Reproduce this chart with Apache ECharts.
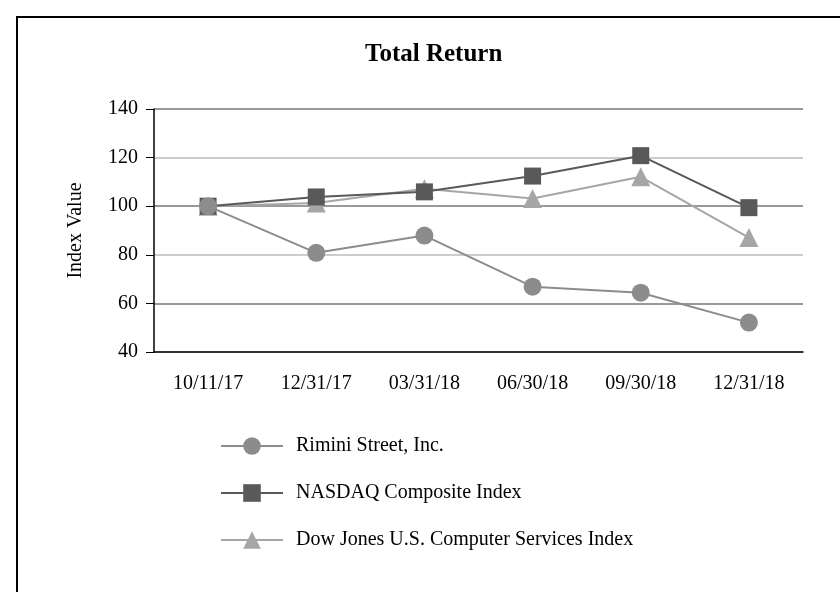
<!DOCTYPE html>
<html>
<head>
<meta charset="utf-8">
<title>Total Return</title>
<script src="https://cdn.jsdelivr.net/npm/echarts@6/dist/echarts.min.js"></script>
<style>
  html, body { margin: 0; padding: 0; background: #fff; }
  #chart { width: 840px; height: 592px; }
</style>
</head>
<body>
<div id="chart"></div>
<script>
// 数据
var categories = ['10/11/17', '12/31/17', '03/31/18', '06/30/18', '09/30/18', '12/31/18'];
var riminiValues = [100, 80.8, 87.9, 66.9, 64.4, 52.1];
var nasdaqValues = [100, 103.8, 105.9, 112.4, 120.8, 99.4];
var dowValues = [100, 101.3, 107.2, 103.2, 112.1, 87.1];
var seriesNames = ['Rimini Street, Inc.', 'NASDAQ Composite Index', 'Dow Jones U.S. Computer Services Index'];

var fontName = '"Liberation Serif", "Times New Roman", serif';

var chart = echarts.init(document.getElementById('chart'));

var option = {
    backgroundColor: '#fff',
    animation: false,
    title: {
        text: 'Total Return',
        left: 360,
        top: 37,
        textStyle: {
            fontFamily: fontName,
            fontSize: 25,
            fontWeight: 'bold',
            color: '#000'
        }
    },
    // 外框
    graphic: [{
        type: 'rect',
        shape: { x: 17, y: 17, width: 900, height: 700 },
        style: { fill: 'none', stroke: '#000', lineWidth: 2 },
        silent: true
    }],
    legend: {
        orient: 'vertical',
        left: 220,
        top: 436,
        padding: 0,
        itemWidth: 62,
        itemHeight: 22,
        itemGap: 27,
        data: seriesNames,
        textStyle: {
            fontFamily: fontName,
            fontSize: 20,
            color: '#000',
            padding: [0, 0, 0, 8]
        }
    },
    grid: {
        left: 154,
        right: 37,
        top: 109,
        bottom: 240
    },
    xAxis: {
        type: 'category',
        data: categories,
        boundaryGap: true,
        axisLine: { lineStyle: { color: '#000', width: 1.5 } },
        axisTick: { show: false },
        axisLabel: {
            margin: 22,
            fontFamily: fontName,
            fontSize: 20,
            color: '#000'
        }
    },
    yAxis: {
        type: 'value',
        min: 40,
        max: 140,
        interval: 20,
        name: 'Index Value',
        nameLocation: 'middle',
        nameGap: 68,
        nameTextStyle: {
            fontFamily: fontName,
            fontSize: 20,
            color: '#000'
        },
        axisLine: { show: true, lineStyle: { color: '#000', width: 1.5 } },
        axisTick: { show: true, inside: false, length: 8, lineStyle: { color: '#000' } },
        axisLabel: {
            margin: 16,
            fontFamily: fontName,
            fontSize: 20,
            color: '#000'
        },
        splitLine: {
            show: true,
            lineStyle: { color: ['#bbbbbb', '#777777'], width: 1.5 }
        }
    },
    series: [{
        name: seriesNames[0],
        type: 'line',
        data: riminiValues,
        z: 4,
        symbol: 'circle',
        symbolSize: 18,
        lineStyle: { color: '#8c8c8c', width: 2 },
        itemStyle: { color: '#8c8c8c' }
    }, {
        name: seriesNames[1],
        type: 'line',
        data: nasdaqValues,
        z: 3,
        symbol: 'rect',
        symbolSize: 17,
        lineStyle: { color: '#595959', width: 2 },
        itemStyle: { color: '#595959' }
    }, {
        name: seriesNames[2],
        type: 'line',
        data: dowValues,
        z: 2,
        symbol: 'triangle',
        symbolSize: 19,
        lineStyle: { color: '#a6a6a6', width: 2 },
        itemStyle: { color: '#a6a6a6' }
    }]
};

chart.setOption(option);
</script>
</body>
</html>
